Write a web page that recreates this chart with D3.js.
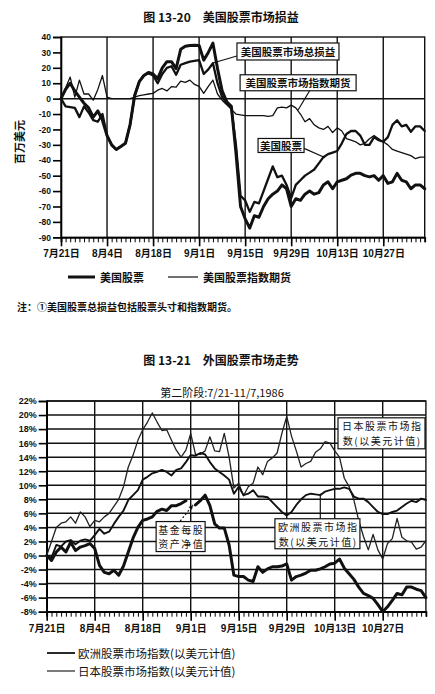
<!DOCTYPE html>
<html><head><meta charset="utf-8">
<script src="https://cdn.jsdelivr.net/npm/d3@7"></script>
<style>
body{margin:0;background:#fff;}
text{font-family:"Liberation Sans","Noto Sans CJK SC",sans-serif;fill:#111;}
.cjk{font-family:"Noto Sans CJK SC",sans-serif;}
</style></head><body>
<script>
// ---------- DATA ----------
const xLabels = ["7月21日","8月4日","8月18日","9月1日","9月15日","9月29日","10月13日","10月27日"];
const xLabelIdx = [0,10,20,30,40,50,60,70];
const nDays = 80; // business days 7/21 - 11/7, 1986

// Fig 13-20 (million US$)
const y1Ticks = [40,30,20,10,0,-10,-20,-30,-40,-50,-60,-70,-80,-90];
const usTotal = [0,6,10,5,1,-3,-6,-12,-8,-14,-24,-30,-33,-31,-29,-17,2,11,15,17,
  16,13,20,24,24,19.5,32,34,34.5,34.6,34.5,25,30,36,19.5,5,-2,-5,-35,-70,
  -78,-84,-76,-77,-70,-65,-62,-60,-56,-58.5,-70,-65,-66,-62,-60,-62,-61,-56,-54,-58.5,
  -54,-53,-52,-49.6,-48.5,-48.5,-50,-50.8,-50,-53,-50,-55,-54,-48.5,-53,-54,-58.5,-56,-56,-58.5];
const usStocks = [0,-5,-5.5,-6,-12,-5,-9,-14,-15,-10,-24,-30,-33,-31,-29,-17,2,11,15,16.5,
  15,10,16,20,21,15.5,22,23,24,24.5,25,16,19,23,10,1,-3,-6,-30,-63,
  -66,-73.5,-67,-68,-60,-52,-44,-51,-50,-56,-64.6,-56,-53,-50,-48,-46,-42,-38,-36,-35,
  -34,-29,-23,-21,-21,-24,-30,-30,-25,-27,-28,-25,-17,-14,-18,-17,-21.5,-18,-18,-21];
const usFutures = [0,7,14,1,12,3,3,-1,6,15,1,0,0,0,0,0,1,2,2.5,3,
  3.4,5.5,6.6,5,7.8,7.4,11.4,10.6,12,9.2,8,3.4,8,12,3,-1,-4,-7,-10,-10.5,
  -11,-11,-11,-11,-11,-11.5,-11,-6,-5.5,-6,-4.2,-6,-10,-15,-13,-17,-19,-20,-18,-22,
  -19,-21,-26,-27,-28,-30,-29,-26,-24,-26,-28,-30,-33,-34,-35,-36,-37,-39,-38,-38];

// Fig 13-21 (% change)
const y2Ticks = [22,20,18,16,14,12,10,8,6,4,2,0,-2,-4,-6,-8];
const japanIdx = [0,2,4,4.6,4.8,5.5,4.6,6.2,5.5,4.1,5,4.8,5.5,6,7,8,9.8,12.6,14.3,16.4,
  17.9,19,20.3,19,17.8,17.9,16.4,15,14,15,17.4,14.4,14.4,14.9,16.9,14.9,14.8,17.4,14,9.6,
  10.3,8.5,9.8,10.3,12.6,11.5,13.4,13.9,14.6,17.4,19.8,17,14.9,12.6,13.1,13.4,14.7,15.2,16.2,16,
  14.9,14,11,9.8,7.9,5,2.7,0.8,3,0.8,-0.5,1.7,2.4,5.3,2.6,2.1,1.9,0.9,1.2,2.1];
const europeIdx = [0,-0.3,1.5,1.3,2,2.2,1.6,2.1,2.3,2.1,2.9,3.8,3.1,3.4,4.5,5.5,6.4,7.9,8.6,9.3,
  10.8,11.2,11.7,11.9,12.2,11.9,11.4,12.2,12.4,13.3,14.3,14.2,14.6,14.4,13.3,12.4,11.9,11.4,10.8,8.8,
  9.8,8.6,8.8,9.3,8.4,8.4,8.3,7.6,6.9,6.2,5.7,6.2,7.2,8,8.6,8.8,8.7,8.6,9.1,9.3,
  9.5,9.5,9.7,9.5,8.4,8.1,8.1,7.6,6.9,6.2,5.9,5.9,6.2,6.4,6.9,7.4,7.8,7.6,8.1,7.9];
const fundNav = [0,-0.7,0.5,1.2,0.5,1.9,0.7,1.2,1.4,1.7,1,-1.4,-2.4,-2.6,-2.1,-2.8,-1.5,0.5,2.5,4,
  5,5.2,5.5,6.3,6.6,6.4,7.1,7.1,7.4,7.8,null,7.2,7.8,8.6,7.1,4.5,3.9,3.9,1.5,-2.8,
  -3,-3,-3.5,-3.7,-1.6,-2.4,-1.9,-1.6,-1.6,-1.5,-1.2,-3.5,-3,-2.8,-2.5,-2.1,-2.1,-1.9,-1.6,-1.2,
  -1.1,-0.5,-1.8,-2.6,-3.4,-4.5,-5.4,-5.7,-6.1,-7,-8,-7.3,-6.4,-5.4,-5.6,-4.5,-4.5,-4.8,-5,-6];

// ---------- DRAW ----------
const svg = d3.select("body").append("svg").attr("width",435).attr("height",694);
const days = d3.range(nDays);

function frame(g, x, y, yTicks, fmt, ySize, hGrid){
  const [x0,x1] = x.range(), [yb,yt] = y.range();
  g.append("g").selectAll("line").data(hGrid).join("line")
    .attr("x1",x0).attr("x2",x1).attr("y1",d=>y(d)).attr("y2",d=>y(d))
    .attr("stroke","#111").attr("stroke-width",1.5);
  g.append("g").selectAll("line").data(xLabelIdx.slice(1)).join("line")
    .attr("x1",d=>x(d)).attr("x2",d=>x(d)).attr("y1",yt).attr("y2",yb)
    .attr("stroke","#111").attr("stroke-width",1.4);
  g.append("rect").attr("x",x0).attr("y",yt).attr("width",x1-x0).attr("height",yb-yt)
    .attr("fill","none").attr("stroke","#111").attr("stroke-width",1.4);
  const ya = g.append("g").attr("transform",`translate(${x0},0)`)
    .call(d3.axisLeft(y).tickValues(yTicks).tickFormat(fmt).tickSize(8).tickPadding(2));
  ya.select(".domain").attr("stroke-width",1.6);
  ya.selectAll("line").attr("stroke-width",1.6);
  ya.selectAll("text").attr("font-size",ySize).attr("font-weight","bold");
  const xm = g.append("g").attr("transform",`translate(0,${yb})`)
    .call(d3.axisBottom(x).tickValues(days).tickSize(5).tickFormat(""));
  xm.select(".domain").attr("stroke-width",1.8);
  xm.selectAll("line").attr("stroke-width",1);
  const xa = g.append("g").attr("transform",`translate(0,${yb})`)
    .call(d3.axisBottom(x).tickValues(xLabelIdx).tickSize(9).tickPadding(4).tickFormat((d,i)=>xLabels[i]));
  xa.select(".domain").remove();
  xa.selectAll("line").attr("stroke-width",1.6);
  xa.selectAll("text").attr("font-size",10).attr("font-weight","bold");
}

function series(g, x, y, data, w, color){
  const line = d3.line().defined(d=>d!=null).x((d,i)=>x(i)).y(d=>y(d));
  g.append("path").datum(data).attr("d",line).attr("fill","none")
    .attr("stroke",color||"#111").attr("stroke-width",w)
    .attr("stroke-linejoin","round").attr("stroke-linecap","round");
}

function box(g, cx, cy, lines, fs, w, h, weight, ls){
  const bg = g.append("g");
  bg.append("rect").attr("x",cx-w/2).attr("y",cy-h/2).attr("width",w).attr("height",h)
    .attr("fill","#fff").attr("stroke","#111").attr("stroke-width",1.2);
  const lh = fs*1.48;
  lines.forEach((s,k)=>{
    bg.append("text").attr("class","cjk").attr("text-anchor","middle")
      .attr("font-size",fs).attr("font-weight",weight||"bold")
      .attr("letter-spacing",ls||0)
      .attr("x",cx + (ls||0)/2).attr("y",cy+(k-(lines.length-1)/2)*lh)
      .attr("dominant-baseline","central").text(s);
  });
}
function pointer(g, x, y, a, b, dashed, arrow){
  const l = g.append("line").attr("x1",x(a[0])).attr("y1",y(a[1])).attr("x2",x(b[0])).attr("y2",y(b[1]))
    .attr("stroke","#111").attr("stroke-width",1.2);
  if(dashed) l.attr("stroke-dasharray","2,2");
  if(arrow){
    const x2=x(b[0]), y2=y(b[1]), ang=Math.atan2(y2-y(a[1]), x2-x(a[0]));
    const s=5;
    g.append("path").attr("d",`M${x2},${y2}L${x2-s*Math.cos(ang-0.45)},${y2-s*Math.sin(ang-0.45)}L${x2-s*Math.cos(ang+0.45)},${y2-s*Math.sin(ang+0.45)}Z`)
      .attr("fill","#111");
  }
}

// ===== Figure 13-20 =====
const g1 = svg.append("g");
const x1 = d3.scaleLinear().domain([0,nDays-1]).range([61,424.7]);
const y1 = d3.scaleLinear().domain([-90,40]).range([237.3,37]);
g1.append("text").attr("class","cjk").attr("x",221).attr("y",16).attr("text-anchor","middle")
  .attr("dominant-baseline","central").attr("font-size",12).attr("font-weight","bold").text("图 13-20\u2003美国股票市场损益");
frame(g1, x1, y1, y1Ticks, d=>d, 8.5, [0]);
g1.append("text").attr("class","cjk").attr("transform","translate(19,142) rotate(-90)")
  .attr("text-anchor","middle").attr("dominant-baseline","central").attr("font-size",11).attr("font-weight","bold").text("百万美元");
series(g1, x1, y1, usFutures, 1.3);
series(g1, x1, y1, usStocks, 2.3);
series(g1, x1, y1, usTotal, 3);
pointer(g1, x1, y1, [38.2,27.7],[33,23.1]);
box(g1, x1(49.3), y1(30.6), ["美国股票市场总损益"], 10.5, 102, 17);
pointer(g1, x1, y1, [54.1,5.6],[51.5,-7.4]);
box(g1, x1(51.5), y1(10.3), ["美国股票市场指数期货"], 10.5, 116, 16);
pointer(g1, x1, y1, [52.8,-32.3],[57.3,-38.2]);
box(g1, x1(47.8), y1(-30.4), ["美国股票"], 10.5, 46, 14);
const lg1 = g1.append("g");
lg1.append("line").attr("x1",68).attr("x2",95).attr("y1",277).attr("y2",277).attr("stroke","#111").attr("stroke-width",3);
lg1.append("text").attr("class","cjk").attr("x",100).attr("y",277).attr("dominant-baseline","central").attr("font-size",11).attr("font-weight","bold").text("美国股票");
lg1.append("line").attr("x1",168).attr("x2",198).attr("y1",277).attr("y2",277).attr("stroke","#111").attr("stroke-width",1.2);
lg1.append("text").attr("class","cjk").attr("x",203).attr("y",277).attr("dominant-baseline","central").attr("font-size",11).attr("font-weight","bold").text("美国股票指数期货");
g1.append("text").attr("class","cjk").attr("x",17).attr("y",306).attr("dominant-baseline","central")
  .attr("font-size",10).attr("font-weight","bold").text("注：①美国股票总损益包括股票头寸和指数期货。");

// ===== Figure 13-21 =====
const g2 = svg.append("g");
const x2 = d3.scaleLinear().domain([0,nDays-1]).range([46.7,425.9]);
const y2 = d3.scaleLinear().domain([-8,22]).range([611.7,401]);
g2.append("text").attr("class","cjk").attr("x",221).attr("y",359).attr("text-anchor","middle")
  .attr("dominant-baseline","central").attr("font-size",12).attr("font-weight","bold").text("图 13-21\u2003外国股票市场走势");
g2.append("text").attr("class","cjk").attr("x",222).attr("y",392).attr("text-anchor","middle")
  .attr("dominant-baseline","central").attr("font-size",11).text("第二阶段:7/21-11/7,1986");
frame(g2, x2, y2, y2Ticks, d=>d+"%", 9, y2Ticks);
series(g2, x2, y2, japanIdx, 1.3, "#222");
series(g2, x2, y2, europeIdx, 1.9);
series(g2, x2, y2, fundNav, 3);
box(g2, x2(69.75), y2(17.4), ["日本股票市场指","数(以美元计值)"], 10, 87, 31, "normal", 1.5);
pointer(g2, x2, y2, [27.8,4.9],[30.5,7.2], true, true);
box(g2, x2(27.9), y2(2.7), ["基金每股","资产净值"], 10, 49, 30, "normal", 1.5);
pointer(g2, x2, y2, [57,5.1],[57,8.8]);
box(g2, x2(56.4), y2(3.1), ["欧洲股票市场指","数(以美元计值)"], 10, 85, 30, "normal", 1.5);
const lg2 = g2.append("g");
lg2.append("line").attr("x1",47).attr("x2",75).attr("y1",653).attr("y2",653).attr("stroke","#111").attr("stroke-width",1.8);
lg2.append("text").attr("class","cjk").attr("x",78).attr("y",653).attr("dominant-baseline","central").attr("font-size",11.5).text("欧洲股票市场指数(以美元计值)");
lg2.append("line").attr("x1",47).attr("x2",75).attr("y1",671).attr("y2",671).attr("stroke","#222").attr("stroke-width",1.2);
lg2.append("text").attr("class","cjk").attr("x",78).attr("y",671).attr("dominant-baseline","central").attr("font-size",11.5).text("日本股票市场指数(以美元计值)");
</script>
</body></html>
